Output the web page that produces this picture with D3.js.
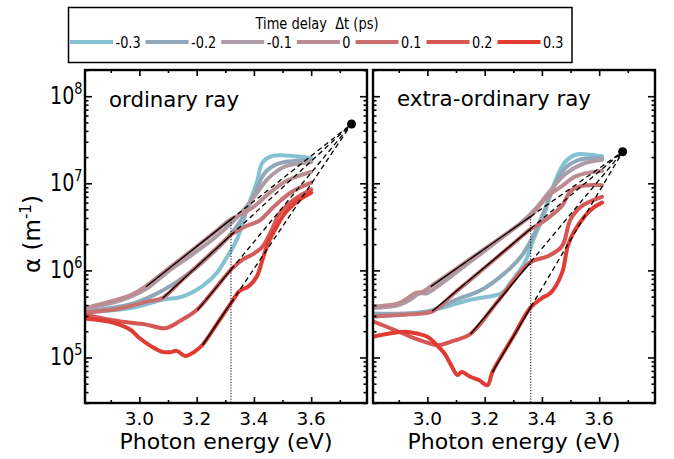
<!DOCTYPE html>
<html>
<head>
<meta charset="utf-8">
<script src="https://cdn.jsdelivr.net/npm/d3@7"></script>
<style>
  body { margin: 0; background: #fff; }
  svg text { font-family: "DejaVu Sans", "Open Sans", sans-serif; fill: #000; }
</style>
</head>
<body>
<svg id="chart" width="674" height="459"></svg>
<script>
// time delays and their colours (legend order)
const delays = ["-0.3", "-0.2", "-0.1", "0", "0.1", "0.2", "0.3"];
const delayColors = ["#84c1d3", "#8fa8b9", "#ad9ba6", "#bd8c92", "#ca6f6f", "#d65653", "#e03c34"];

// absorption spectra, [photon energy (eV), alpha (1/m)], one list per delay
const ordinaryCurves = [
  [[2.81,3.3e5],[2.97,3.7e5],[3.08,4.6e5],[3.15,5.0e5],[3.22,6.6e5],[3.27,9.3e5],[3.30,1.32e6],[3.34,2.24e6],[3.38,5.5e6],[3.41,1.02e7],[3.43,1.74e7],[3.46,2.04e7],[3.51,2.09e7],[3.60,1.95e7]],
  [[2.81,3.4e5],[2.97,4.1e5],[3.05,5.2e5],[3.12,7.0e5],[3.19,1.02e6],[3.25,1.52e6],[3.30,2.2e6],[3.34,3.19e6],[3.38,5.3e6],[3.41,8.7e6],[3.44,1.34e7],[3.49,1.70e7],[3.60,1.84e7]],
  [[2.81,3.7e5],[2.90,4.2e5],[2.97,5.0e5],[3.03,6.3e5],[3.10,9.7e5],[3.18,1.48e6],[3.26,2.32e6],[3.32,3.46e6],[3.37,5.2e6],[3.41,7.7e6],[3.45,1.14e7],[3.51,1.57e7],[3.60,1.75e7]],
  [[2.81,3.7e5],[2.90,4.4e5],[2.97,5.2e5],[3.02,6.5e5],[3.10,1.04e6],[3.18,1.67e6],[3.26,2.70e6],[3.32,3.86e6],[3.36,4.5e6],[3.40,5.4e6],[3.45,7.5e6],[3.51,1.05e7],[3.60,1.35e7]],
  [[2.81,3.3e5],[2.90,3.5e5],[2.97,3.9e5],[3.03,4.4e5],[3.08,4.8e5],[3.15,7.8e5],[3.22,1.27e6],[3.28,1.93e6],[3.32,2.55e6],[3.37,3.19e6],[3.42,3.74e6],[3.47,5.4e6],[3.53,7.9e6],[3.60,1.02e7]],
  [[2.81,3.1e5],[2.93,2.6e5],[3.02,2.4e5],[3.09,2.17e5],[3.14,2.6e5],[3.20,3.5e5],[3.26,5.9e5],[3.32,1.02e6],[3.36,1.33e6],[3.40,1.56e6],[3.43,1.87e6],[3.46,2.8e6],[3.49,4.5e6],[3.54,6.5e6],[3.60,8.5e6]],
  [[2.81,2.8e5],[2.91,2.5e5],[2.97,2.07e5],[3.00,1.67e5],[3.04,1.35e5],[3.08,1.16e5],[3.11,1.15e5],[3.13,1.19e5],[3.16,1.04e5],[3.19,1.15e5],[3.22,1.39e5],[3.27,2.4e5],[3.32,4.2e5],[3.35,5.8e5],[3.38,6.5e5],[3.41,8.5e5],[3.43,1.33e6],[3.45,2.07e6],[3.48,3.2e6],[3.51,4.6e6],[3.56,6.5e6],[3.60,7.8e6]]
];
const extraCurves = [
  [[2.81,2.95e5],[3.00,3.4e5],[3.15,4.6e5],[3.26,5.5e5],[3.29,7.2e5],[3.34,1.23e6],[3.37,2.24e6],[3.41,4.6e6],[3.44,9.3e6],[3.48,1.74e7],[3.52,2.14e7],[3.56,2.14e7],[3.61,2.04e7]],
  [[2.81,3.2e5],[2.92,3.2e5],[3.01,3.4e5],[3.10,4.6e5],[3.19,6.0e5],[3.27,9.3e5],[3.33,1.48e6],[3.37,2.5e6],[3.41,5.0e6],[3.44,8.9e6],[3.48,1.48e7],[3.53,1.86e7],[3.61,1.95e7]],
  [[2.81,3.7e5],[2.90,4.0e5],[2.94,4.6e5],[2.97,5.4e5],[3.00,5.5e5],[3.05,7.1e5],[3.15,1.26e6],[3.25,2.24e6],[3.33,3.6e6],[3.38,5.2e6],[3.43,8.3e6],[3.48,1.26e7],[3.54,1.66e7],[3.61,1.86e7]],
  [[2.81,3.85e5],[2.90,4.2e5],[2.96,5.5e5],[2.985,5.7e5],[3.01,6.5e5],[3.10,1.04e6],[3.20,1.77e6],[3.30,3.0e6],[3.36,4.2e6],[3.42,7.1e6],[3.47,9.3e6],[3.52,1.21e7],[3.61,1.39e7]],
  [[2.81,2.95e5],[2.92,3.1e5],[2.98,3.2e5],[3.02,3.4e5],[3.10,5.7e5],[3.20,1.07e6],[3.30,2.03e6],[3.36,2.97e6],[3.40,3.55e6],[3.43,4.2e6],[3.47,5.5e6],[3.50,8.1e6],[3.54,9.3e6],[3.61,9.5e6]],
  [[2.81,2.6e5],[2.88,2.1e5],[2.94,1.74e5],[3.00,1.48e5],[3.035,1.38e5],[3.09,1.55e5],[3.15,1.86e5],[3.25,4.6e5],[3.36,1.24e6],[3.42,1.45e6],[3.47,1.89e6],[3.50,3.85e6],[3.54,5.5e6],[3.61,7.0e6]],
  [[2.81,1.73e5],[2.92,1.98e5],[2.97,1.86e5],[3.00,1.73e5],[3.03,1.42e5],[3.06,1.11e5],[3.08,8.5e4],[3.105,6.3e4],[3.12,6.8e4],[3.15,6.0e4],[3.18,5.5e4],[3.21,4.8e4],[3.227,6.8e4],[3.30,1.74e5],[3.36,3.74e5],[3.40,4.8e5],[3.43,5.5e5],[3.47,9.3e5],[3.49,1.89e6],[3.51,2.7e6],[3.55,4.2e6],[3.58,5.25e6],[3.61,6.0e6]]
];

// Urbach fits: start points, common focus and the energy where solid turns dashed
const ordinaryFitStarts = [[3.023,6.5e5],[3.081,4.8e5],[3.203,3.5e5],[3.221,1.39e5]];
const ordinaryFocus = [3.741, 4.8e7];
const ordinaryCut = 3.32;
const extraFitStarts = [[3.012,6.5e5],[3.017,3.4e5],[3.151,1.86e5],[3.227,6.8e4]];
const extraFocus = [3.682, 2.3e7];
const extraCut = 3.361;

const energyDomain = [2.81, 3.795];
const alphaDomain = [3e4, 2e8];
const xMajor = [3.0, 3.2, 3.4, 3.6];
const xMinor = [2.9, 3.1, 3.3, 3.5, 3.7];
const yMajor = [1e5, 1e6, 1e7, 1e8];
const yMinor = [];
[1e4, 1e5, 1e6, 1e7, 1e8].forEach(dec => {
  for (let k = 2; k <= 9; k++) {
    const v = k * dec;
    if (v >= alphaDomain[0] && v <= alphaDomain[1]) yMinor.push(v);
  }
});

const svg = d3.select("#chart");
const panelTop = 70, panelBottom = 403, panelWidth = 282;

const panels = [
  { left: 85, curves: ordinaryCurves, fits: ordinaryFitStarts, focus: ordinaryFocus, cut: ordinaryCut,
    title: "ordinary ray", titleWidth: 130, titleY: 106.5, yLabels: true },
  { left: 373, curves: extraCurves, fits: extraFitStarts, focus: extraFocus, cut: extraCut,
    title: "extra-ordinary ray", titleWidth: 194, titleY: 105.5, yLabels: false }
];

function logInterp(p0, p1, e) {
  const t = (e - p0[0]) / (p1[0] - p0[0]);
  return Math.pow(10, Math.log10(p0[1]) + t * (Math.log10(p1[1]) - Math.log10(p0[1])));
}

// squeeze or stretch a text to a given width
function fitWidth(sel, w) {
  sel.attr("textLength", w).attr("lengthAdjust", "spacingAndGlyphs");
  return sel;
}

panels.forEach((p, pi) => {
  const x = d3.scaleLinear().domain(energyDomain).range([p.left, p.left + panelWidth]);
  const y = d3.scaleLog().domain(alphaDomain).range([panelBottom, panelTop]);
  const g = svg.append("g");

  const clipId = `clip-${pi}`;
  svg.append("defs").append("clipPath").attr("id", clipId)
    .append("rect").attr("x", p.left).attr("y", panelTop)
    .attr("width", panelWidth).attr("height", panelBottom - panelTop);

  const plot = g.append("g").attr("clip-path", `url(#${clipId})`);
  const line = d3.line().x(d => x(d[0])).y(d => y(d[1])).curve(d3.curveCatmullRom.alpha(0.5));

  p.curves.forEach((c, i) => {
    plot.append("path").datum(c)
      .attr("d", line)
      .attr("fill", "none")
      .attr("stroke", delayColors[i])
      .attr("stroke-width", 4)
      .attr("stroke-linecap", "round")
      .attr("stroke-linejoin", "round");
  });

  // fits: solid up to the cut energy, dashed on to the focus
  p.fits.forEach(s => {
    const mid = [p.cut, logInterp(s, p.focus, p.cut)];
    plot.append("line")
      .attr("x1", x(s[0])).attr("y1", y(s[1]))
      .attr("x2", x(mid[0])).attr("y2", y(mid[1]))
      .attr("stroke", "#000").attr("stroke-width", 1.4);
    plot.append("line")
      .attr("x1", x(mid[0])).attr("y1", y(mid[1]))
      .attr("x2", x(p.focus[0])).attr("y2", y(p.focus[1]))
      .attr("stroke", "#000").attr("stroke-width", 1.3)
      .attr("stroke-dasharray", "5,3.5");
  });

  const cutTop = logInterp(p.fits[0], p.focus, p.cut);
  plot.append("line")
    .attr("x1", x(p.cut)).attr("x2", x(p.cut))
    .attr("y1", y(cutTop)).attr("y2", panelBottom)
    .attr("stroke", "#000").attr("stroke-width", 1)
    .attr("stroke-dasharray", "1.2,1.6");

  plot.append("circle")
    .attr("cx", x(p.focus[0])).attr("cy", y(p.focus[1]))
    .attr("r", 4.5).attr("fill", "#000");

  // inward ticks on all four sides
  const tickStyle = sel => {
    sel.select(".domain").remove();
    sel.selectAll(".tick line").attr("stroke", "#000").attr("stroke-width", 1.6);
  };
  g.append("g").attr("transform", `translate(0,${panelBottom})`)
    .call(d3.axisBottom(x).tickValues(xMajor).tickSize(-6).tickFormat("")).call(tickStyle);
  g.append("g").attr("transform", `translate(0,${panelBottom})`)
    .call(d3.axisBottom(x).tickValues(xMinor).tickSize(-3).tickFormat("")).call(tickStyle);
  g.append("g").attr("transform", `translate(0,${panelTop})`)
    .call(d3.axisTop(x).tickValues(xMajor).tickSize(-6).tickFormat("")).call(tickStyle);
  g.append("g").attr("transform", `translate(0,${panelTop})`)
    .call(d3.axisTop(x).tickValues(xMinor).tickSize(-3).tickFormat("")).call(tickStyle);
  g.append("g").attr("transform", `translate(${p.left},0)`)
    .call(d3.axisLeft(y).tickValues(yMajor).tickSize(-7).tickFormat("")).call(tickStyle);
  g.append("g").attr("transform", `translate(${p.left},0)`)
    .call(d3.axisLeft(y).tickValues(yMinor).tickSize(-3.5).tickFormat("")).call(tickStyle);
  g.append("g").attr("transform", `translate(${p.left + panelWidth},0)`)
    .call(d3.axisRight(y).tickValues(yMajor).tickSize(-7).tickFormat("")).call(tickStyle);
  g.append("g").attr("transform", `translate(${p.left + panelWidth},0)`)
    .call(d3.axisRight(y).tickValues(yMinor).tickSize(-3.5).tickFormat("")).call(tickStyle);

  g.append("rect")
    .attr("x", p.left).attr("y", panelTop)
    .attr("width", panelWidth).attr("height", panelBottom - panelTop)
    .attr("fill", "none").attr("stroke", "#000").attr("stroke-width", 2.4);

  // tick labels
  xMajor.forEach(v => {
    g.append("text").attr("x", x(v)).attr("y", 424.5)
      .attr("text-anchor", "middle").attr("font-size", 18.5)
      .text(d3.format(".1f")(v));
  });
  if (p.yLabels) {
    yMajor.forEach(v => {
      const t = g.append("text")
        .attr("transform", `translate(82.5,${y(v) + 8}) scale(0.78,1)`)
        .attr("text-anchor", "end").attr("font-size", 24.5).text("10");
      t.append("tspan").attr("dy", -10.5).attr("font-size", 16.5).text(Math.round(Math.log10(v)));
    });
  }

  fitWidth(g.append("text")
    .attr("x", p.left + panelWidth / 2 - 106.5).attr("y", 448.5)
    .attr("font-size", 20.5)
    .text("Photon energy (eV)"), 213);

  fitWidth(g.append("text")
    .attr("x", p.left + 24).attr("y", p.titleY)
    .attr("font-size", 20.5)
    .text(p.title), p.titleWidth);
});

// y axis title
const yTitle = svg.append("text")
  .attr("transform", "translate(40,234) rotate(-90)")
  .attr("text-anchor", "middle").attr("font-size", 23);
yTitle.append("tspan").text("\u03b1 (m");
yTitle.append("tspan").attr("dy", -9).attr("font-size", 15).text("-1");
yTitle.append("tspan").attr("dy", 9).text(")");

// legend
const legend = svg.append("g");
legend.append("rect")
  .attr("x", 68.5).attr("y", 7.5).attr("width", 503.5).attr("height", 55)
  .attr("fill", "#fff").attr("stroke", "#000").attr("stroke-width", 1.5);
fitWidth(legend.append("text")
  .attr("x", 317 - 61.5).attr("y", 28.5).attr("font-size", 16)
  .text("Time delay \u00a0\u0394t (ps)"), 123);

let lx = 70;
delays.forEach((d, i) => {
  legend.append("line")
    .attr("x1", lx).attr("x2", lx + 43).attr("y1", 42).attr("y2", 42)
    .attr("stroke", delayColors[i]).attr("stroke-width", 4).attr("stroke-linecap", "butt");
  const t = legend.append("text")
    .attr("x", lx + 45.5).attr("y", 48).attr("font-size", 16.5).text(d);
  const w = t.node().getComputedTextLength() * 0.78;
  fitWidth(t, w);
  lx += 45.5 + w + 5;
});
</script>
</body>
</html>
